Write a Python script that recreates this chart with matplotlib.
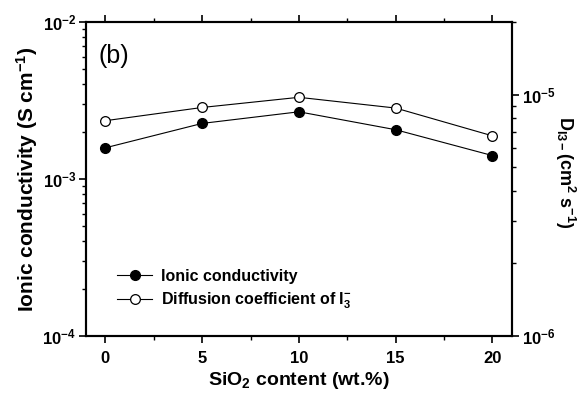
import numpy as np
import matplotlib
matplotlib.use("Agg")
import matplotlib.pyplot as plt
from matplotlib.ticker import LogLocator, NullFormatter, FixedLocator, FixedFormatter

plt.rcParams['font.family'] = ['Liberation Sans', 'DejaVu Sans']
plt.rcParams['font.weight'] = 'bold'
plt.rcParams['mathtext.fontset'] = 'custom'
plt.rcParams['mathtext.rm'] = 'Liberation Sans:bold'
plt.rcParams['mathtext.it'] = 'Liberation Sans:bold'
plt.rcParams['mathtext.bf'] = 'Liberation Sans:bold'

# SiO2 loading (wt.%)
sio2 = [0, 5, 10, 15, 20]
# ionic conductivity, S/cm
conductivity = [1.58e-3, 2.26e-3, 2.68e-3, 2.06e-3, 1.41e-3]
# diffusion coefficient of I3-, cm2/s
diffusion = [7.8e-6, 8.85e-6, 9.75e-6, 8.8e-6, 6.75e-6]

fig = plt.figure(figsize=(5.79, 3.93), dpi=100)
ax = fig.add_axes([0.1485, 0.145, 0.7355, 0.799])
ax2 = ax.twinx()

l1, = ax.plot(sio2, conductivity, color='black', lw=0.8, marker='o', ms=7,
              mfc='black', mec='black', label='Ionic conductivity')
l2, = ax2.plot(sio2, diffusion, color='black', lw=0.8, marker='o', ms=7,
               mfc='white', mec='black', mew=0.9,
               label='Diffusion coefficient of I$_3^{-}$')

ax.set_yscale('log')
ax2.set_yscale('log')
ax.set_xlim(-1, 21)
ax.set_ylim(1e-4, 1e-2)
ax2.set_ylim(1e-6, 2e-5)

ax.set_xticks([0, 5, 10, 15, 20])
ax.set_xticks([2.5, 7.5, 12.5, 17.5], minor=True)
ax.set_xticklabels(['0', '5', '10', '15', '20'])

ax.yaxis.set_major_locator(FixedLocator([1e-4, 1e-3, 1e-2]))
ax.yaxis.set_major_formatter(FixedFormatter(['10$^{-4}$', '10$^{-3}$', '10$^{-2}$']))
ax.yaxis.set_minor_locator(LogLocator(base=10, subs=np.arange(2, 10)))
ax.yaxis.set_minor_formatter(NullFormatter())

ax2.yaxis.set_major_locator(FixedLocator([1e-6, 1e-5]))
ax2.yaxis.set_major_formatter(FixedFormatter(['10$^{-6}$', '10$^{-5}$']))
ax2.yaxis.set_minor_locator(LogLocator(base=10, subs=np.arange(2, 10)))
ax2.yaxis.set_minor_formatter(NullFormatter())

for a in (ax, ax2):
    for s in a.spines.values():
        s.set_linewidth(1.5)
    a.tick_params(which='major', length=5, width=1.2, labelsize=12)
    a.tick_params(which='minor', length=3, width=1.0)
ax.tick_params(axis='x', which='both', top=True, direction='out')
ax.tick_params(axis='x', which='both', pad=6)
ax.tick_params(axis='y', which='both', direction='out', pad=2)
ax2.tick_params(axis='y', which='both', direction='out', pad=2)

fig.canvas.draw()
for lab in ax.get_xticklabels() + ax.get_yticklabels() + ax2.get_yticklabels():
    lab.set_fontweight('bold')

ax.set_xlabel('SiO$_2$ content (wt.%)', fontsize=14, fontweight='bold', labelpad=3)
ax.set_ylabel('Ionic conductivity (S cm$^{-1}$)', fontsize=15, fontweight='bold', labelpad=2)
ax2.set_ylabel('D$_{I3-}$(cm$^2$ s$^{-1}$)', fontsize=13, fontweight='bold',
               rotation=270, labelpad=14)
ax2.yaxis.set_label_coords(1.153, 0.52)

ax.text(0.03, 0.93, '(b)', transform=ax.transAxes, fontsize=18,
        fontweight='normal', va='top', ha='left')

leg = ax.legend(handles=[l1, l2], loc='center left', bbox_to_anchor=(0.073, 0.147),
                frameon=False, fontsize=11.5, handlelength=2.2, handletextpad=0.55,
                labelspacing=0.45, borderpad=0, borderaxespad=0)
for t in leg.get_texts():
    t.set_fontweight('bold')

fig.savefig('out.png', dpi=100)
